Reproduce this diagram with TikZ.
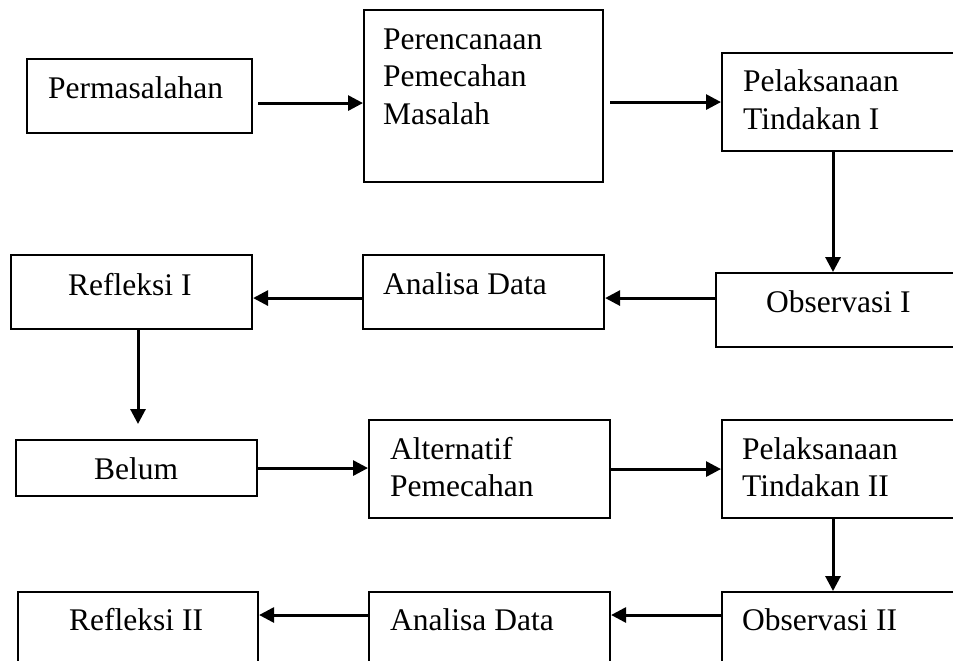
\documentclass[tikz,border=0pt]{standalone}
\usepackage{fontspec}
\setmainfont{Liberation Serif}
\usetikzlibrary{arrows.meta}
\newcommand\mylines[1]{\begin{tabular}[t]{@{}l@{}}#1\end{tabular}}
\tikzset{
  box/.style={draw, line width=2.1pt, inner sep=0pt, anchor=north west},
  txt/.style={inner sep=0pt, anchor=base west, font=\fontsize{31.5}{37.8}\selectfont},
  arr/.style={line width=3pt, -{Triangle[length=15pt,width=15pt]}}
}
\begin{document}
\begin{tikzpicture}[x=1pt,y=-1pt]
\useasboundingbox (0,0) rectangle (953,661);
\clip (0,0) rectangle (953,661);
% boxes
\node[box, minimum width=225, minimum height=74] (perm) at (26,58) {};
\node[box, minimum width=239, minimum height=172] (plan) at (363,9) {};
\node[box, minimum width=270, minimum height=98] (pel1) at (721,52) {};
\node[box, minimum width=275, minimum height=74] (obs1) at (715,272) {};
\node[box, minimum width=241, minimum height=74] (ana1) at (362,254) {};
\node[box, minimum width=241, minimum height=74] (ref1) at (10,254) {};
\node[box, minimum width=241, minimum height=56] (belum) at (15,439) {};
\node[box, minimum width=241, minimum height=98] (alt) at (368,419) {};
\node[box, minimum width=270, minimum height=98] (pel2) at (721,419) {};
\node[box, minimum width=240, minimum height=110] (ref2) at (17,591) {};
\node[box, minimum width=241, minimum height=110] (ana2) at (368,591) {};
\node[box, minimum width=270, minimum height=110] (obs2) at (721,591) {};
% texts
\node[txt] at (48,99) {Permasalahan};
\node[txt] at (383,49) {\mylines{Perencanaan\\Pemecahan\\Masalah}};
\node[txt] at (743,92) {\mylines{Pelaksanaan\\Tindakan I}};
\node[txt] at (766,312) {Observasi I};
\node[txt] at (383,294) {Analisa Data};
\node[txt] at (68,295) {Refleksi I};
\node[txt] at (94,479) {Belum};
\node[txt] at (390,459) {\mylines{Alternatif\\Pemecahan}};
\node[txt] at (742,459) {\mylines{Pelaksanaan\\Tindakan II}};
\node[txt] at (69,630) {Refleksi II};
\node[txt] at (390,630) {Analisa Data};
\node[txt] at (742,630) {Observasi II};
% connectors
\draw[arr] ([xshift=5pt,yshift=-7pt]perm.east) -- ([yshift=-7pt]perm.east -| plan.west);
\draw[arr] ([xshift=6pt]plan.east |- pel1.west) -- (pel1.west);
\draw[arr] ([xshift=112pt]pel1.south west) -- ([xshift=112pt]pel1.south west |- obs1.north);
\draw[arr] ([yshift=-6pt]ana1.east -| obs1.west) -- ([yshift=-6pt]ana1.east);
\draw[arr] ([yshift=-6pt]ana1.west) -- ([yshift=-6pt]ana1.west -| ref1.east);
\draw[arr] ([xshift=128pt]ref1.south west) -- ([xshift=128pt,yshift=15pt]ref1.south west |- belum.north);
\draw[arr] (belum.east) -- (belum.east -| alt.west);
\draw[arr] (alt.east) -- (pel2.west);
\draw[arr] ([xshift=112pt]pel2.south west) -- ([xshift=112pt]pel2.south west |- obs2.north);
\draw[arr] ([yshift=-24pt]obs2.north west) -- ([yshift=-24pt]obs2.north west -| ana2.east);
\draw[arr] ([yshift=-24pt]ana2.north west) -- ([yshift=-24pt]ana2.north west -| ref2.east);
\end{tikzpicture}
\end{document}
